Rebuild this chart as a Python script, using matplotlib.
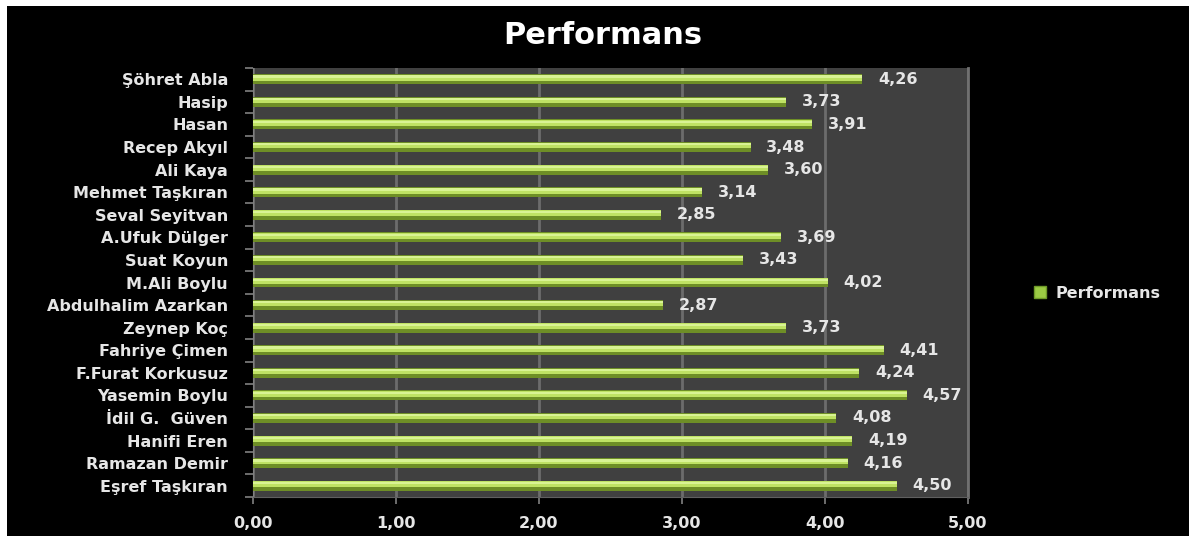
import matplotlib.pyplot as plt
import matplotlib.patches as mpatches
import numpy as np

plt.rcParams['font.family'] = ['DejaVu Sans']

names = ['Şöhret Abla', 'Hasip', 'Hasan', 'Recep Akyıl', 'Ali Kaya',
         'Mehmet Taşkıran', 'Seval Seyitvan', 'A.Ufuk Dülger', 'Suat Koyun',
         'M.Ali Boylu', 'Abdulhalim Azarkan', 'Zeynep Koç', 'Fahriye Çimen',
         'F.Furat Korkusuz', 'Yasemin Boylu', 'İdil G.  Güven', 'Hanifi Eren',
         'Ramazan Demir', 'Eşref Taşkıran']
scores = [4.26, 3.73, 3.91, 3.48, 3.60, 3.14, 2.85, 3.69, 3.43, 4.02,
          2.87, 3.73, 4.41, 4.24, 4.57, 4.08, 4.19, 4.16, 4.50]
xticks = [0, 1, 2, 3, 4, 5]

txt = '#e6e6e6'
fig = plt.figure(figsize=(11.89, 5.36), dpi=100, facecolor='white')
# black chart frame with thin white margin top/left
fig.patches.append(mpatches.Rectangle((7 / 1189, 0), 1, 1 - 6 / 536,
                                      transform=fig.transFigure,
                                      facecolor='black', edgecolor='none', zorder=-10))

ax = fig.add_axes([253 / 1189, 1 - 497 / 536, 715 / 1189, 429 / 536], zorder=2)
ax.set_facecolor('#404040')

y = np.arange(len(names))
# y axis is inverted, so align='edge' puts the bar's top at the given y
ax.barh(y - 0.22, scores, height=0.44, align='edge', color='#6e8e26', zorder=3)
ax.barh(y - 0.19, scores, height=0.25, align='edge', color='#bfe264', zorder=4)
ax.barh(y - 0.17, scores, height=0.1, align='edge', color='#d9f394', zorder=5)

for yi, v in zip(y, scores):
    ax.text(v + 0.11, yi, f'{v:.2f}'.replace('.', ','), color=txt,
            fontsize=11.5, fontweight='bold', va='center', ha='left', zorder=6)

ax.set_xlim(0, 5)
ax.set_ylim(len(names) - 0.5, -0.5)
ax.set_xticks(xticks)
ax.set_xticklabels([f'{t:.2f}'.replace('.', ',') for t in xticks],
                   color=txt, fontsize=11.5, fontweight='bold')
ax.set_yticks(y)
ax.set_yticklabels(names, color=txt, fontsize=11.5, fontweight='bold')
ax.tick_params(axis='y', length=0, pad=18)
ax.set_yticks(np.arange(-0.5, len(names), 1), minor=True)
ax.tick_params(axis='y', which='minor', length=6, color='#808080', width=1.2)
ax.tick_params(axis='x', length=5, color='#808080', width=1.2, pad=9)

ax.grid(axis='x', color='#6c6c6c', linewidth=2, zorder=1)
ax.spines['top'].set_visible(False)
ax.spines['left'].set_color('#808080')
ax.spines['bottom'].set_color('#606060')
ax.spines['right'].set_color('#707070')
ax.spines['right'].set_linewidth(2)

fig.text(603 / 1189, 1 - 36 / 536, 'Performans', color='white', fontsize=22,
         fontweight='bold', ha='center', va='center')

handle = mpatches.Patch(facecolor='#9ccb44', edgecolor='#6f9a28')
leg = fig.legend([handle], ['Performans'], loc='center left',
                 bbox_to_anchor=(1020 / 1189, 1 - 293 / 536), frameon=False,
                 handlelength=0.7, handleheight=0.7, handletextpad=0.6,
                 prop={'size': 11.5, 'weight': 'bold'})
for t in leg.get_texts():
    t.set_color(txt)

fig.savefig('out.png', dpi=100, facecolor=fig.get_facecolor())
